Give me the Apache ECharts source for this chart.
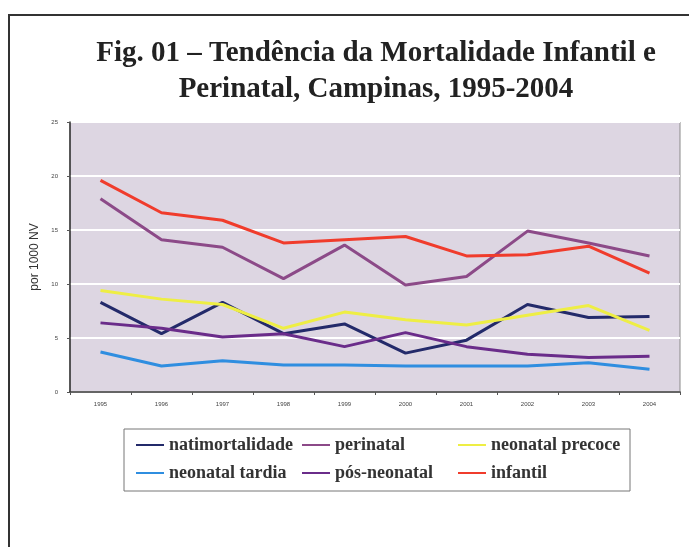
<!DOCTYPE html>
<html>
<head>
<meta charset="utf-8">
<script src="https://cdn.jsdelivr.net/npm/echarts@6/dist/echarts.min.js"></script>
<style>
  html, body { margin: 0; padding: 0; background: #fff; }
  #chart { width: 689px; height: 547px; }
</style>
</head>
<body>
<div id="chart"></div>
<script>
  // anos e taxas (por 1000 NV)
  const years = ['1995', '1996', '1997', '1998', '1999', '2000', '2001', '2002', '2003', '2004']
  const natimortalidade = [8.3, 5.4, 8.3, 5.4, 6.3, 3.6, 4.8, 8.1, 6.9, 7.0]
  const perinatal = [17.9, 14.1, 13.4, 10.5, 13.6, 9.9, 10.7, 14.9, 13.8, 12.6]
  const neonatalPrecoce = [9.4, 8.6, 8.1, 5.9, 7.4, 6.7, 6.2, 7.1, 8.0, 5.7]
  const neonatalTardia = [3.7, 2.4, 2.9, 2.5, 2.5, 2.4, 2.4, 2.4, 2.7, 2.1]
  const posNeonatal = [6.4, 5.9, 5.1, 5.4, 4.2, 5.5, 4.2, 3.5, 3.2, 3.3]
  const infantil = [19.6, 16.6, 15.9, 13.8, 14.1, 14.4, 12.6, 12.7, 13.5, 11.0]
  const yTicks = [0, 5, 10, 15, 20, 25]

  let serif = '"Liberation Serif", "DejaVu Serif", serif'
  let legendText = { fontFamily: serif, fontWeight: 'bold', fontSize: 18, color: '#333' }

  function line(name, data, color) {
    return {
      name: name,
      type: 'line',
      data: data,
      symbol: 'none',
      lineStyle: { color: color, width: 3 },
      itemStyle: { color: color }
    }
  }

  function legendCol(names, left) {
    return {
      data: names,
      orient: 'vertical',
      left: left,
      top: 436,
      itemGap: 10,
      itemWidth: 28,
      itemHeight: 2,
      icon: 'rect',
      textStyle: legendText,
      padding: 0
    }
  }

  const chart = echarts.init(document.getElementById('chart'))
  chart.setOption({
    backgroundColor: '#fff',
    animation: false,
    title: {
      text: 'Fig. 01 – Tendência da Mortalidade Infantil e\nPerinatal, Campinas, 1995-2004',
      left: 371,
      top: 31,
      textAlign: 'center',
      textStyle: {
        fontFamily: serif,
        fontWeight: 'bold',
        fontSize: 29,
        lineHeight: 36,
        color: '#222'
      }
    },
    legend: [
      legendCol(['natimortalidade', 'neonatal tardia'], 136),
      legendCol(['perinatal', 'pós-neonatal'], 302),
      legendCol(['neonatal precoce', 'infantil'], 458)
    ],
    grid: {
      left: 70,
      right: 9,
      top: 122,
      bottom: 155,
      show: true,
      backgroundColor: '#ddd6e2',
      borderColor: '#8a8a8a',
      borderWidth: 1
    },
    xAxis: {
      type: 'category',
      data: years,
      boundaryGap: true,
      axisLine: { lineStyle: { color: '#333', width: 1.5 } },
      axisTick: { show: true, length: 3, lineStyle: { color: '#555' } },
      axisLabel: { fontSize: 6, color: '#444', margin: 9, fontFamily: 'Liberation Sans' }
    },
    yAxis: {
      type: 'value',
      min: yTicks[0],
      max: yTicks[yTicks.length - 1],
      interval: 5,
      name: 'por 1000 NV',
      nameLocation: 'middle',
      nameGap: 27,
      nameTextStyle: { fontSize: 12, color: '#333', fontFamily: 'Liberation Sans' },
      axisLine: { show: true, lineStyle: { color: '#333', width: 1.5 } },
      axisTick: { show: true, length: 3, lineStyle: { color: '#555' } },
      axisLabel: { fontSize: 6, color: '#444', margin: 12, fontFamily: 'Liberation Sans' },
      splitLine: { lineStyle: { color: '#ffffff', width: 2 } }
    },
    graphic: [
      {
        type: 'rect',
        shape: { x: 9, y: 15, width: 700, height: 560 },
        style: { fill: null, stroke: '#333', lineWidth: 2 },
        silent: true
      },
      {
        type: 'rect',
        shape: { x: 124, y: 429, width: 506, height: 62 },
        style: { fill: null, stroke: '#777', lineWidth: 1 },
        silent: true
      }
    ],
    series: [
      line('natimortalidade', natimortalidade, '#232a6a'),
      line('perinatal', perinatal, '#8c4a88'),
      line('neonatal precoce', neonatalPrecoce, '#eeee44'),
      line('neonatal tardia', neonatalTardia, '#2f8ee0'),
      line('pós-neonatal', posNeonatal, '#6a2c8a'),
      line('infantil', infantil, '#f03c2c')
    ]
  })
</script>
</body>
</html>
